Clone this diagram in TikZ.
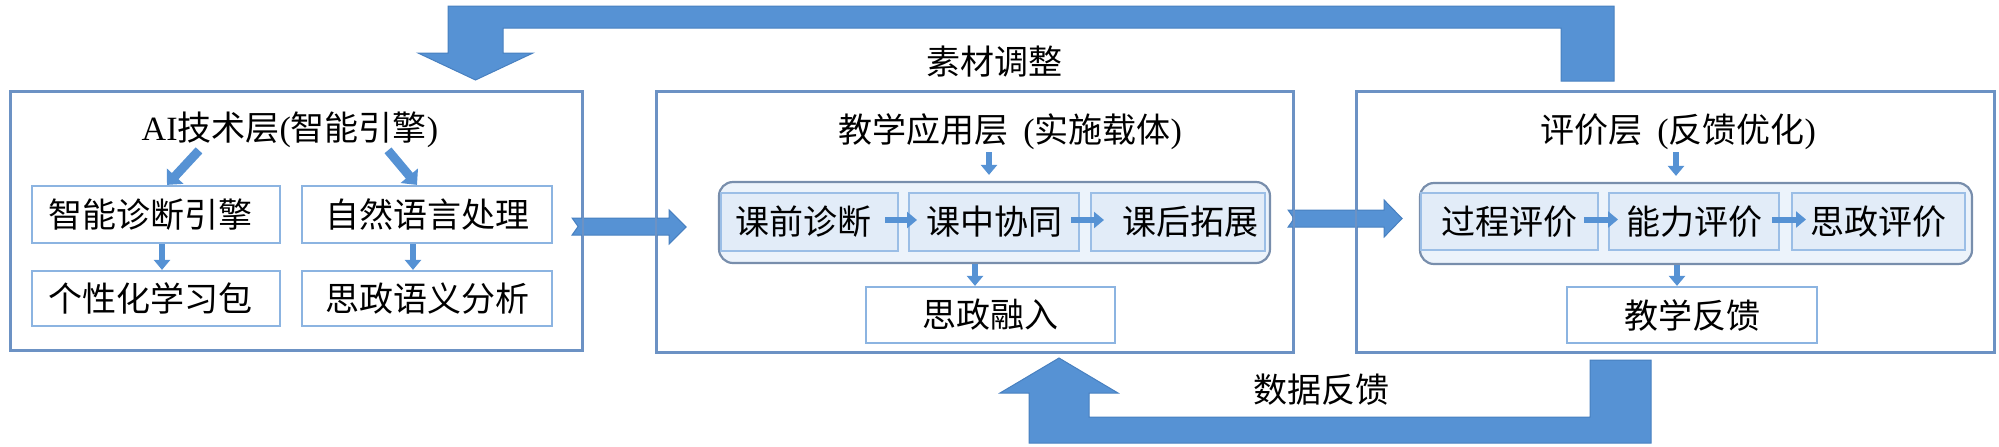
\documentclass[tikz,border=0pt]{standalone}
\usepackage{fontspec}
\newfontfamily\cjk{Noto Sans CJK SC}
\newfontfamily\lat{Liberation Serif}
\usetikzlibrary{arrows.meta,fit}
\definecolor{arrowblue}{RGB}{86,146,212}
\definecolor{arrowedge}{RGB}{72,128,192}
\definecolor{outerc}{RGB}{108,146,196}
\definecolor{subc}{RGB}{140,180,225}
\definecolor{grpc}{RGB}{120,142,172}
\definecolor{grpfill}{RGB}{236,243,251}
\definecolor{stgc}{RGB}{155,190,230}
\definecolor{stgfill}{RGB}{226,236,248}
\begin{document}
\begin{tikzpicture}[x=0.5pt,y=-0.5pt,
  every node/.style={font=\fontsize{17pt}{20pt}\selectfont\cjk, text=black},
  wh/.style 2 args={minimum width=#1*0.5pt, minimum height=#2*0.5pt},
  outerbox/.style={draw=outerc, line width=1.1pt, inner sep=0pt},
  subbox/.style={draw=subc, line width=1.1pt, inner sep=0pt, fill=white},
  groupbox/.style={draw=grpc, line width=1.1pt, rounded corners=7pt, fill=grpfill, inner sep=0pt},
  stagebox/.style={draw=stgc, line width=1pt, fill=stgfill, inner sep=0pt},
  smallarrow/.style={draw=arrowblue, line width=3pt, -{Triangle[width=8pt,length=5pt]}},
  diagarrow/.style={draw=arrowblue, line width=4.5pt, -{Triangle[width=11pt,length=6pt]}},
  bigarrow/.style={fill=arrowblue, draw=arrowedge, line width=0.5pt},
  txt/.style={inner sep=0pt}]
\useasboundingbox (0,0) rectangle (1999,446);

% ---------- big block arrows (drawn below box borders)
\coordinate (topstart) at (1587.5,81);
\coordinate (topend) at (475.5,80);
\fill[bigarrow] (1614,81) -- (1614,6) -- (448,6) -- (448,53) -- (418,53) -- (topend)
  -- (533,53) -- (503,53) -- (503,28) -- (1561,28) -- (1561,81) -- cycle;
\coordinate (botstart) at (1620.5,360);
\coordinate (botend) at (1059,358);
\fill[bigarrow] (1651,360) -- (1651,443) -- (1029,443) -- (1029,393) -- (1000,393) -- (botend)
  -- (1118,393) -- (1089,393) -- (1089,417) -- (1590,417) -- (1590,360) -- cycle;

% ---------- layer boxes
\node[outerbox, fit={(11,92)(582,350)}] (ai) {};
\node[outerbox, fit={(657,92)(1293,352)}] (app) {};
\node[outerbox, fit={(1357,92)(1994,352)}] (eva) {};

\begin{scope}[shift={(ai.east)}]
\fill[bigarrow] (-11,-3) -- (86,-3) -- (86,-11) -- (103,6) -- (86,23) -- (86,14) -- (-11,14) -- (-5,5.5) -- cycle;
\end{scope}
\begin{scope}[shift={(app.east)}]
\fill[bigarrow] (-6,-12) -- (90,-12) -- (90,-22) -- (108,-3.5) -- (90,15) -- (90,5) -- (-6,5) -- (0,-3.5) -- cycle;
\end{scope}
\draw[outerc, line width=1.1pt] (ai.north west) rectangle (ai.south east);
\draw[outerc, line width=1.1pt] (app.north west) rectangle (app.south east);
\draw[outerc, line width=1.1pt] (eva.north west) rectangle (eva.south east);

% ---------- labels on loops
\node[txt] (sctz) at (994,62) {素材调整};
\node[txt] (sjfk) at (1321,390) {数据反馈};

% ---------- AI layer
\node[txt] (aititle) at (290,130) {{\lat AI}技术层{\lat (}智能引擎{\lat )}};
\node[subbox, wh={248}{57}] (zn) at (156,214.5) {智能诊断引擎\hspace*{6pt}};
\node[subbox, wh={250}{57}] (zr) at (427,214.5) {自然语言处理};
\node[subbox, wh={248}{55}] (gx) at (156,298.5) {个性化学习包\hspace*{6pt}};
\node[subbox, wh={250}{55}] (sy) at (427,298.5) {思政语义分析};
\draw[diagarrow] ([xshift=-45.5pt,yshift=-1pt]aititle.south) -- ([xshift=5.5pt]zn.north);
\draw[diagarrow] ([xshift=49pt,yshift=-1pt]aititle.south) -- ([xshift=-5pt]zr.north);
\draw[smallarrow] ([xshift=3pt]zn.south) -- ([xshift=3pt]gx.north);
\draw[smallarrow] ([xshift=-7pt]zr.south) -- ([xshift=-7pt]sy.north);

% ---------- application layer
\node[txt] (apptitle) at (1010,132) {教学应用层\hspace{0.45em}{\lat (}实施载体{\lat )}};
\node[groupbox, fit={(719,182)(1270,263)}] (appgrp) {};
\node[stagebox, wh={177}{58}] (pre) at (809.5,222) {课前诊断\hspace*{6pt}};
\node[stagebox, wh={170}{58}] (inc) at (994,222) {课中协同};
\node[stagebox, wh={174}{58}] (post) at (1178,222) {\hspace*{12pt}课后拓展};
\node[subbox, wh={249}{56}] (szrr) at (990.5,315) {思政融入};
\draw[smallarrow] ([xshift=-10.5pt,yshift=-1pt]apptitle.south) -- ([xshift=-2.75pt,yshift=3pt]appgrp.north);
\draw[smallarrow] ([xshift=-7pt,yshift=1pt]pre.east) -- ([xshift=4.5pt,yshift=1pt]inc.west);
\draw[smallarrow] ([xshift=-4.5pt,yshift=1pt]inc.east) -- ([xshift=7pt,yshift=1pt]post.west);
\draw[smallarrow] ([xshift=-9.75pt]appgrp.south) -- ([xshift=-7.75pt]szrr.north);

% ---------- evaluation layer
\node[txt] (evatitle) at (1678,132) {评价层\hspace{0.45em}{\lat (}反馈优化{\lat )}};
\node[groupbox, fit={(1420,183)(1972,264)}] (evagrp) {};
\node[stagebox, wh={177}{57}] (gc) at (1509.5,221.5) {过程评价};
\node[stagebox, wh={170}{57}] (nl) at (1694,221.5) {能力评价};
\node[stagebox, wh={173}{57}] (szpj) at (1878.5,221.5) {思政评价};
\node[subbox, wh={250}{56}] (jxfk) at (1692,315) {教学反馈};
\draw[smallarrow] ([xshift=-1pt,yshift=-1pt]evatitle.south) -- ([xshift=-10pt,yshift=3pt]evagrp.north);
\draw[smallarrow] ([xshift=-7.5pt,yshift=1pt]gc.east) -- ([xshift=5pt,yshift=1pt]nl.west);
\draw[smallarrow] ([xshift=-4pt,yshift=1pt]nl.east) -- ([xshift=7.5pt,yshift=1pt]szpj.west);
\draw[smallarrow] ([xshift=-9.5pt]evagrp.south) -- ([xshift=-7.5pt]jxfk.north);
\end{tikzpicture}
\end{document}
